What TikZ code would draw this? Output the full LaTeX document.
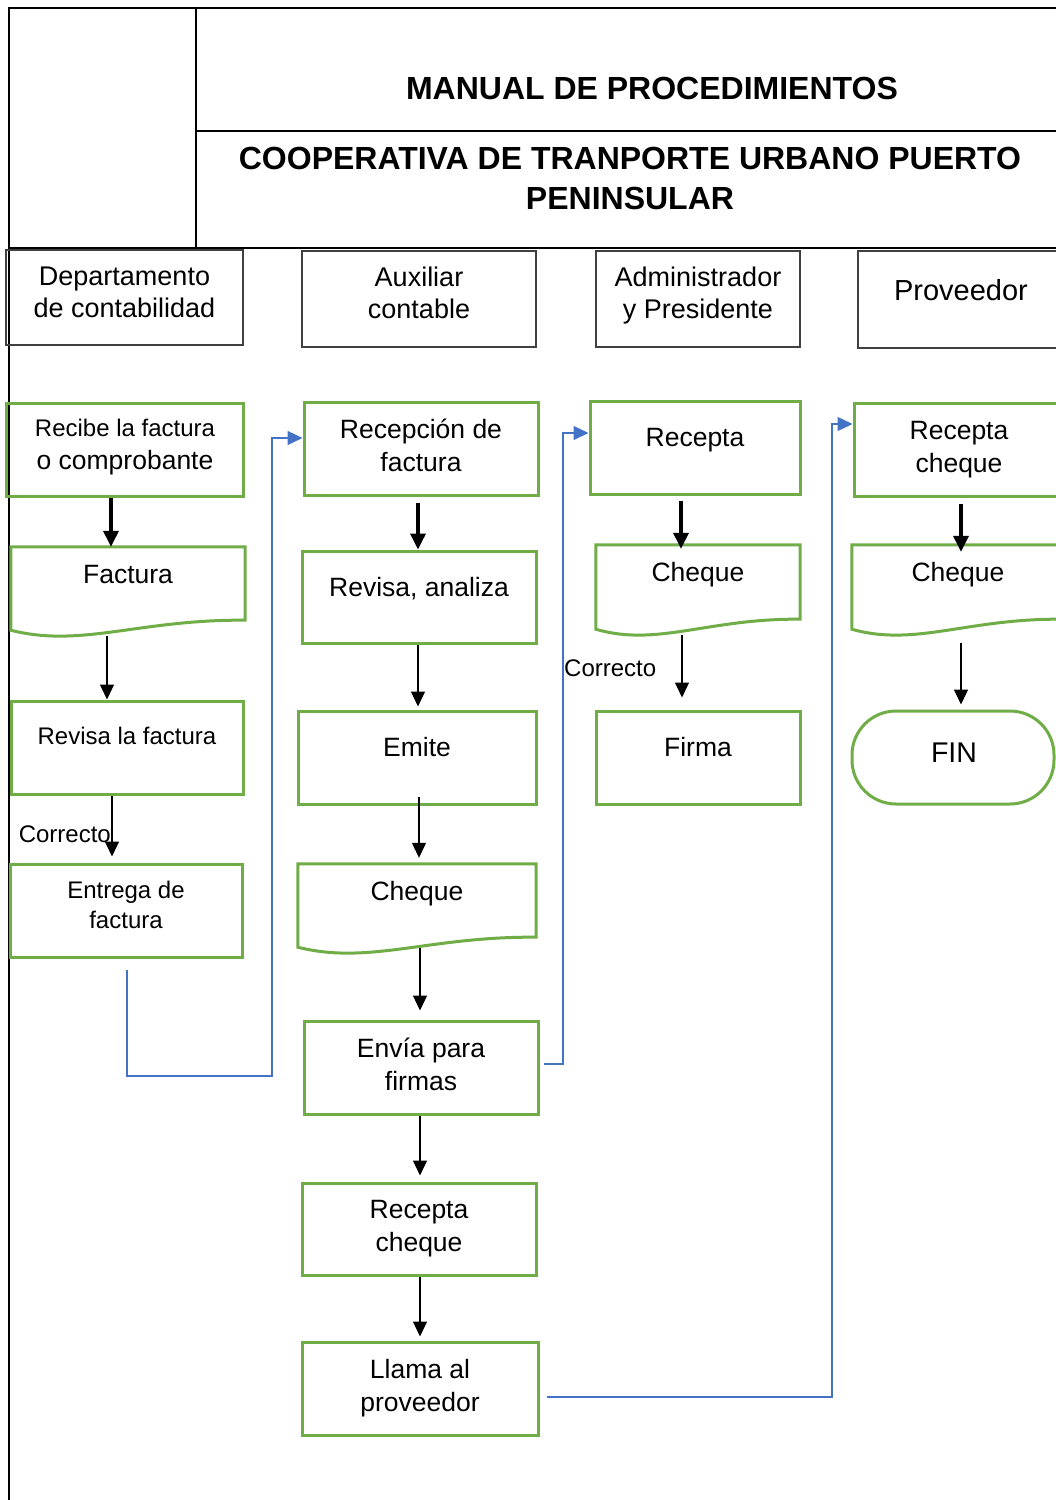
\documentclass[tikz,border=0pt]{standalone}
\usepackage{fontspec}
\setmainfont{Liberation Sans}
\usetikzlibrary{arrows.meta,calc}
\definecolor{boxgreen}{HTML}{70AD47}
\definecolor{flowblue}{HTML}{4472C4}
\definecolor{lanegray}{HTML}{404040}

% document symbol: straight top and sides, wavy bottom edge
\newcommand\docwave[1]{%
  \draw[gline] ($(#1.south west)+(0,-6)$) -- (#1.north west) -- (#1.north east)
    -- ($(#1.south east)+(0,-16)$)
    .. controls ($(#1.south west)!0.55!(#1.south east)+(0,-17)$)
    and ($(#1.south west)!0.3!(#1.south east)+(0,12)$)
    .. ($(#1.south west)+(0,-6)$) -- cycle;}

\begin{document}
\begin{tikzpicture}[x=1pt,y=-1pt,
  every node/.style={inner sep=0pt},
  lane/.style={draw=lanegray, line width=1.5pt, rectangle},
  gbox/.style={draw=boxgreen, line width=3pt, rectangle},
  gline/.style={draw=boxgreen, line width=3pt},
  docnode/.style={rectangle},
  frameline/.style={line width=2.2pt, black},
  titletext/.style={align=center, font=\bfseries\fontsize{32}{40}\selectfont},
  hdr/.style={align=center, font=\fontsize{27}{32}\selectfont},
  txt/.style={align=center, font=\fontsize{26.5}{33}\selectfont},
  smalltext/.style={align=center, font=\fontsize{24}{30}\selectfont},
  heavyarr/.style={line width=3.5pt, -{Triangle[length=16pt,width=15pt]}},
  lightarr/.style={line width=1.2pt, -{Triangle[length=15pt,width=14pt]}},
  flow/.style={draw=flowblue, line width=1.3pt, -{Triangle[length=15pt,width=14pt]}}]

\fill[white] (0,0) rectangle (1056,1500);
\useasboundingbox (0,0) rectangle (1056,1500);

% title block
\draw[frameline] (9,1500) -- (9,8) -- (1060,8);
\draw[frameline] (196,8) -- (196,248);
\draw[frameline] (196,131) -- (1060,131);
\draw[frameline] (9,248) -- (1060,248);
\node[titletext] (ttl1) at (652,88) {MANUAL DE PROCEDIMIENTOS};
\node[titletext] (ttl2) at (630,178) {COOPERATIVA DE TRANPORTE URBANO PUERTO\\PENINSULAR};

% lane headers
\node[lane, minimum width=237pt, minimum height=95pt] (h1) at (124.5,297.5) {};
\node[hdr] (h1t) at (124.5,292) {Departamento\\de contabilidad};
\node[lane, minimum width=234pt, minimum height=96pt] (h2) at (419,299) {};
\node[hdr] (h2t) at (419,293) {Auxiliar\\contable};
\node[lane, minimum width=204pt, minimum height=96pt] (h3) at (698,299) {};
\node[hdr] (h3t) at (698,296) {Administrador\\y Presidente};
\node[lane, minimum width=220pt, minimum height=97pt] (h4) at (968,299.5) {};
\node[hdr, font=\fontsize{29}{34}\selectfont] (h4t) at (961,290) {Proveedor};

% lane 1: Departamento de contabilidad
\node[gbox, minimum width=237pt, minimum height=93pt] (g1) at (124.5,449.5) {};
\node[txt] (g1t) at (125,447) {{\fontsize{24}{30}\selectfont Recibe la factura}\\o comprobante};
\node[docnode, minimum width=234pt, minimum height=89pt] (d1) at (128,591.5) {};
\docwave{d1}
\node[txt] (d1t) at (128,575) {Factura};
\node[gbox, minimum width=232pt, minimum height=93pt] (g2) at (127,747.5) {};
\node[smalltext] (g2t) at (127,736) {Revisa la factura};
\node[gbox, minimum width=232pt, minimum height=93pt] (g3) at (126,910.5) {};
\node[smalltext] (g3t) at (126,905) {Entrega de\\factura};

% lane 2: Auxiliar contable
\node[gbox, minimum width=234pt, minimum height=93pt] (g4) at (421,448.5) {};
\node[txt] (g4t) at (421,445) {Recepción de\\factura};
\node[gbox, minimum width=234pt, minimum height=92pt] (g5) at (419,597) {};
\node[txt] (g5t) at (419,589) {Revisa, analiza};
\node[gbox, minimum width=238pt, minimum height=93pt] (g6) at (417,757.5) {};
\node[txt] (g6t) at (417,747) {Emite};
\node[docnode, minimum width=238pt, minimum height=89pt] (d2) at (417,908.5) {};
\docwave{d2}
\node[txt] (d2t) at (417,894) {Cheque};
\node[gbox, minimum width=234pt, minimum height=93pt] (g7) at (421,1067.5) {};
\node[txt] (g7t) at (421,1064) {Envía para\\firmas};
\node[gbox, minimum width=234pt, minimum height=92pt] (g8) at (419,1229) {};
\node[txt] (g8t) at (419,1229) {Recepta\\cheque};
\node[gbox, minimum width=236pt, minimum height=93pt] (g9) at (420,1388.5) {};
\node[txt] (g9t) at (420,1388) {Llama al\\proveedor};

% lane 3: Administrador y Presidente
\node[gbox, minimum width=210pt, minimum height=93pt] (g10) at (695,447.5) {};
\node[txt] (g10t) at (695,440) {Recepta};
\node[docnode, minimum width=204pt, minimum height=90pt] (d3) at (698,590) {};
\docwave{d3}
\node[txt] (d3t) at (698,575) {Cheque};
\node[gbox, minimum width=204pt, minimum height=93pt] (g11) at (698,757.5) {};
\node[txt] (g11t) at (698,747) {Firma};

% lane 4: Proveedor
\node[gbox, minimum width=216pt, minimum height=93pt] (g12) at (962,449.5) {};
\node[txt] (g12t) at (959,450) {Recepta\\cheque};
\node[docnode, minimum width=210pt, minimum height=90pt] (d4) at (957,590) {};
\docwave{d4}
\node[txt] (d4t) at (958,575) {Cheque};
\node[gbox, rounded corners=44pt, minimum width=202pt, minimum height=93pt] (fin) at (953,757.5) {};
\node[txt, font=\fontsize{28.5}{34}\selectfont] (fint) at (954,753) {FIN};

% flow inside lanes
\draw[heavyarr] (g1.south -| 111,0) -- (d1.north -| 111,0);
\draw[lightarr] (d1.south -| 107,0) -- (g2.north -| 107,0);
\draw[lightarr] (g2.south -| 112,0) -- ($(g3.north -| 112,0)+(0,-6)$);
\node[smalltext, anchor=east] (ok1) at (111,834) {Correcto};

\draw[heavyarr] ($(g4.south -| 418,0)+(0,6)$) -- (g5.north -| 418,0);
\draw[lightarr] (g5.south -| 418,0) -- ($(g6.north -| 418,0)+(0,-3)$);
\draw[lightarr] ($(g6.south -| 419,0)+(0,-9)$) -- ($(d2.north -| 419,0)+(0,-6)$);
\draw[lightarr] ($(d2.south -| 420,0)+(0,-5)$) -- ($(g7.north -| 420,0)+(0,-9)$);
\draw[lightarr] (g7.south -| 420,0) -- ($(g8.north -| 420,0)+(0,-6)$);
\draw[lightarr] (g8.south -| 420,0) -- ($(g9.north -| 420,0)+(0,-4)$);

\draw[heavyarr] ($(g10.south -| 681,0)+(0,5)$) -- ($(d3.north -| 681,0)+(0,4)$);
\draw[lightarr] (d3.south -| 682,0) -- ($(g11.north -| 682,0)+(0,-12)$);
\node[smalltext, anchor=west] (ok2) at (564,668) {Correcto};

\draw[heavyarr] ($(g12.south -| 961,0)+(0,6)$) -- ($(d4.north -| 961,0)+(0,7)$);
\draw[lightarr] ($(d4.south -| 961,0)+(0,8)$) -- ($(fin.north -| 961,0)+(0,-5)$);

% hand-offs between lanes
\draw[flow] ($(g3.south -| 127,0)+(0,11)$) |- (272,1076) |- (g4.west |- 0,438);
\draw[flow] ($(g7.east |- 0,1064)+(4,0)$) -| (563,433) -- (g10.west |- 0,433);
\draw[flow] ($(g9.east |- 0,1397)+(7,0)$) -| (832,424) -- (g12.west |- 0,424);

\end{tikzpicture}
\end{document}
